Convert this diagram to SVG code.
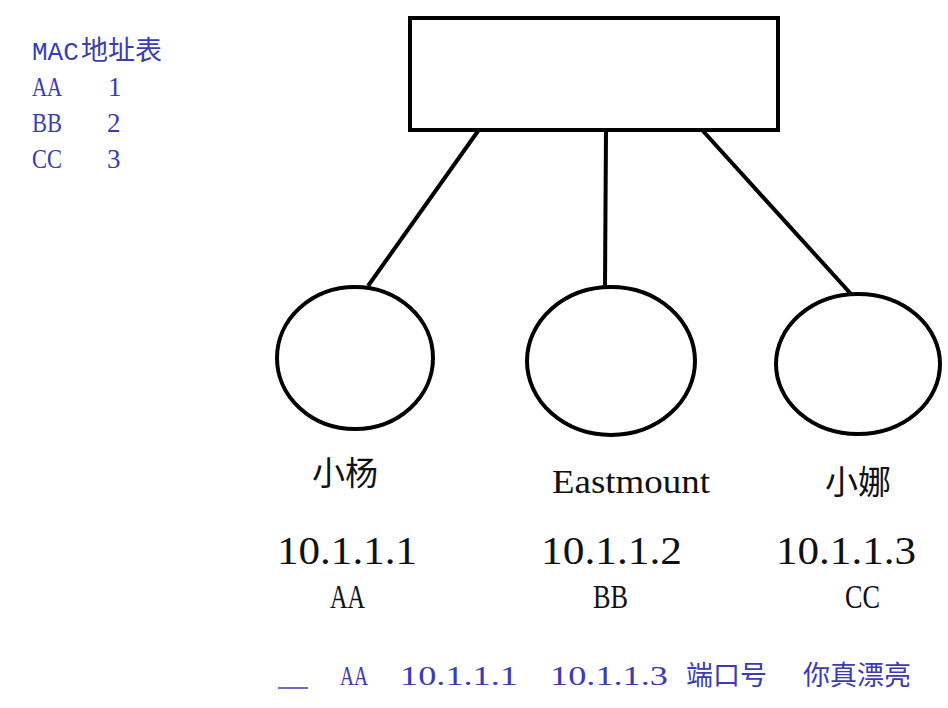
<svg xmlns="http://www.w3.org/2000/svg" width="948" height="708" viewBox="0 0 948 708">
<style>
.shape{fill:none;stroke:#000;stroke-width:4}
.lbl{font-family:"Liberation Serif","Noto Sans CJK SC",serif;fill:#111;font-size:33px}
.big{font-size:40px}
.blue{font-family:"Liberation Serif","Noto Sans CJK SC",serif;fill:#3b3bb5;font-size:27px}
.mono{font-family:"Liberation Mono",monospace;fill:#3b3bb5;font-size:26px}
</style>
<rect width="948" height="708" fill="#fff"/>
<g id="table">
<text class="mono" x="32" y="60">MAC</text>
<text class="blue" x="81" y="60" font-size="26">地址表</text>
<text class="blue" x="32" y="96" font-size="28" textLength="30" lengthAdjust="spacingAndGlyphs">AA</text>
<text class="blue" x="108" y="96" font-size="28">1</text>
<text class="blue" x="32" y="132" font-size="28" textLength="30" lengthAdjust="spacingAndGlyphs">BB</text>
<text class="blue" x="107" y="132" font-size="28">2</text>
<text class="blue" x="32" y="168" font-size="28" textLength="30" lengthAdjust="spacingAndGlyphs">CC</text>
<text class="blue" x="107" y="168" font-size="28">3</text>
</g>
<g id="connectors">
<line class="shape" x1="478" y1="131" x2="368" y2="286"/>
<line class="shape" x1="606" y1="131" x2="605" y2="287"/>
<line class="shape" x1="703" y1="131" x2="851" y2="294"/>
</g>
<g id="switch"><rect class="shape" x="410" y="18" width="368" height="112"/></g>
<g id="node-xiaoyang">
<ellipse class="shape" cx="355" cy="358" rx="78" ry="71"/>
<text class="lbl" x="312" y="485">小杨</text>
<text class="lbl big" x="277" y="564" textLength="140" lengthAdjust="spacingAndGlyphs">10.1.1.1</text>
<text class="lbl" x="330" y="608" font-size="37" textLength="35" lengthAdjust="spacingAndGlyphs">AA</text>
</g>
<g id="node-eastmount">
<ellipse class="shape" cx="611" cy="361" rx="84" ry="74"/>
<text class="lbl" x="552" y="493" font-size="38" textLength="158" lengthAdjust="spacingAndGlyphs">Eastmount</text>
<text class="lbl big" x="541" y="564" textLength="141" lengthAdjust="spacingAndGlyphs">10.1.1.2</text>
<text class="lbl" x="593" y="608" font-size="37" textLength="35" lengthAdjust="spacingAndGlyphs">BB</text>
</g>
<g id="node-xiaona">
<ellipse class="shape" cx="858" cy="364" rx="82" ry="70"/>
<text class="lbl" x="825" y="494">小娜</text>
<text class="lbl big" x="776" y="564" textLength="140" lengthAdjust="spacingAndGlyphs">10.1.1.3</text>
<text class="lbl" x="845" y="608" font-size="37" textLength="35" lengthAdjust="spacingAndGlyphs">CC</text>
</g>
<g id="bottom">
<line x1="278" y1="688" x2="308" y2="688" stroke="#3b3bb5" stroke-width="1.5"/>
<text class="blue" x="340" y="685" font-size="30" textLength="28" lengthAdjust="spacingAndGlyphs">AA</text>
<text class="blue" x="400" y="685" font-size="32" textLength="118" lengthAdjust="spacingAndGlyphs">10.1.1.1</text>
<text class="blue" x="550" y="685" font-size="32" textLength="118" lengthAdjust="spacingAndGlyphs">10.1.1.3</text>
<text class="blue" x="686" y="685" font-size="27">端口号</text>
<text class="blue" x="803" y="685" font-size="28">你真漂亮</text>
</g>
</svg>
